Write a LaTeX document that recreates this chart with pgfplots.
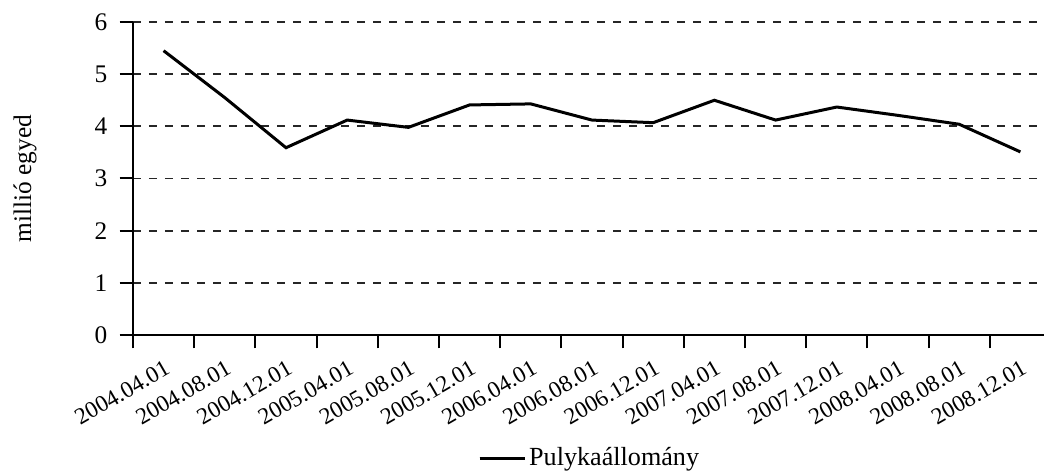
\documentclass[border=0pt]{standalone}
\usepackage{pgfplots}
\pgfplotsset{compat=1.18}
\usepackage{fontspec}
\setmainfont{Liberation Serif}
\pgfplotstableread{
x y
0 5.45
1 4.55
2 3.59
3 4.12
4 3.98
5 4.41
6 4.43
7 4.12
8 4.07
9 4.50
10 4.12
11 4.37
12 4.21
13 4.04
14 3.51
}\datatable
\begin{document}
\fontsize{18}{22}\selectfont
\begin{tikzpicture}
\begin{axis}[
 name=ax,
 scale only axis, width=683.25pt, height=234.75pt,
 xmin=-0.5, xmax=14.386, ymin=0, ymax=6,
 axis x line=bottom, axis y line=left,
 axis line style={-, line width=1.5pt, black},
 xtick={0,...,14},
 xticklabels={2004.04.01,2004.08.01,2004.12.01,2005.04.01,2005.08.01,2005.12.01,2006.04.01,2006.08.01,2006.12.01,2007.04.01,2007.08.01,2007.12.01,2008.04.01,2008.08.01,2008.12.01},
 minor xtick={-0.5,0.5,...,13.5},
 ytick={0,1,2,3,4,5,6},
 tick align=outside,
 major tick length=10pt, minor tick length=10pt,
 major x tick style={draw=none},
 minor x tick style={line width=1.5pt, black},
 major y tick style={line width=1.5pt, black},
 /pgf/number format/assume math mode=true,
 ymajorgrids,
 major y grid style={dash pattern=on 6pt off 6pt, line width=1.4pt, color=black!85},
 yticklabel style={font=\fontsize{19}{22}\selectfont, xshift=-3pt},
 xticklabel style={font=\fontsize{17.5}{20}\selectfont, yshift=-8.25pt, rotate=30, anchor=north east, inner sep=0pt},
 ylabel={millió egyed},
 ylabel style={at={(axis description cs:-0.1186,0.5)}, anchor=center, font=\fontsize{19}{23}\selectfont},
 legend style={at={(axis description cs:0.5016,-0.393)}, anchor=center, draw=none, fill=none, font=\fontsize{19.6}{24}\selectfont},
 legend image code/.code={\draw[line width=2.25pt] (0pt,0pt) -- (29pt,0pt); \path (0pt,0pt) -- (34pt,0pt);},
]
\addplot[black, line width=2.25pt] table[x=x, y=y] {\datatable};
\addlegendentry{Pulykaállomány}
\end{axis}
\pgfresetboundingbox
\path ([shift={(-99.75pt,-102.75pt)}]ax.south west) rectangle ([yshift=16.5pt]ax.north east);
\end{tikzpicture}
\end{document}
